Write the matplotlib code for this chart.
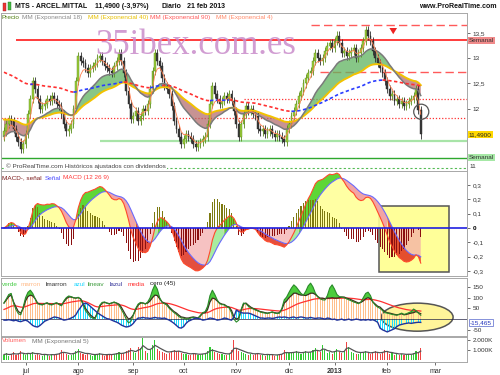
import matplotlib
matplotlib.use("Agg")
import matplotlib.pyplot as plt
from matplotlib.patches import Ellipse, Rectangle
import numpy as np
import pandas as pd

plt.rcParams["font.family"] = ["Liberation Sans", "DejaVu Sans"]

# ---- datos -------------------------------------------------------------------
# cierres diarios ARCELORMITTAL, ~20 jun 2012 .. 21 feb 2013
close = [
    11.55, 11.7, 11.8, 11.75, 11.6, 11.45, 11.35, 11.2, 11.3, 11.5,
    11.9, 12.2, 12.55, 12.4, 12.2, 12.0, 12.05, 12.1, 12.2, 12.15,
    12.25, 12.2, 12.1, 12.05, 11.9, 11.7, 11.55, 11.6, 11.7, 12.0,
    12.55, 13.05, 12.95, 12.9, 12.8, 12.7, 12.8, 12.85, 12.9, 13.0,
    13.05, 12.95, 12.85, 12.8, 12.75, 12.7, 12.85, 12.95, 13.1, 12.95,
    12.7, 12.35, 12.1, 11.8, 11.85, 11.95, 11.75, 11.85, 12.0, 11.95,
    12.1, 12.4, 12.75, 13.1, 12.95, 12.85, 12.6, 12.45, 12.4, 12.3,
    12.05, 11.75, 11.6, 11.45, 11.3, 11.4, 11.5, 11.45, 11.4, 11.3,
    11.25, 11.3, 11.35, 11.4, 11.45, 11.7, 12.1, 12.45, 12.3, 12.2,
    12.1, 12.15, 12.25, 12.2, 12.3, 12.15, 11.95, 11.7, 11.45, 11.7,
    11.9, 12.05, 11.95, 12.0, 11.9, 11.85, 11.6, 11.55, 11.6, 11.5,
    11.55, 11.6, 11.5, 11.45, 11.5, 11.45, 11.4, 11.35, 11.6, 11.7,
    11.85, 11.95, 12.1, 12.25, 12.35, 12.5, 12.6, 12.7, 12.75, 12.95,
    13.1, 13.0, 12.95, 13.0, 13.15, 13.25, 13.3, 13.2, 13.35, 13.45,
    13.3, 13.1, 13.15, 13.05, 13.1, 13.15, 13.2, 13.0, 13.1, 13.2,
    13.35, 13.55, 13.45, 13.35, 13.15, 13.0, 12.9, 12.8, 12.7, 12.55,
    12.4, 12.25, 12.3, 12.15, 12.2, 12.1, 12.15, 12.05, 12.1, 12.15,
    12.2, 12.25, 12.4, 11.97, 11.49,
]
open_first = 11.45

# valores de las medias al inicio de la ventana visible
ema_start = {4: 11.3, 18: 11.45, 40: 11.8, 90: 12.75}

# volumen diario (miles)
volume_k = [
    550, 700, 450, 600, 800, 500, 650, 900, 600, 500,
    750, 600, 850, 500, 650, 550, 400, 600, 500, 450,
    600, 500, 650, 700, 1000, 800, 650, 550, 500, 700,
    900, 1100, 700, 600, 500, 650, 550, 450, 500, 600,
    700, 500, 450, 550, 600, 500, 650, 700, 800, 600,
    750, 900, 1000, 1200, 800, 700, 1300, 1200, 2200, 900,
    700, 1000, 1500, 2000, 1100, 900, 800, 700, 600, 750,
    900, 1000, 800, 950, 700, 600, 650, 500, 550, 700,
    600, 500, 550, 650, 700, 900, 1300, 1100, 800, 700,
    600, 650, 500, 550, 600, 1000, 2000, 1200, 900, 800,
    700, 600, 550, 650, 500, 600, 700, 550, 500, 450,
    600, 500, 550, 450, 500, 600, 650, 1000, 800, 700,
    750, 800, 900, 700, 650, 800, 900, 700, 850, 1000,
    1200, 900, 800, 1500, 1000, 700, 800, 600, 900, 1100,
    800, 700, 900, 1800, 1300, 800, 700, 600, 650, 700,
    800, 900, 700, 600, 800, 900, 700, 650, 800, 1000,
    900, 600, 700, 550, 600, 500, 650, 550, 500, 600,
    550, 700, 900, 800, 1200,
]

# indicador (45): verde / lmarron / lazul
ind_verde = [
    75, 95, 115, 120, 75, 45, 25, 20, 55, 100,
    125, 135, 120, 95, 72, 68, 66, 72, 76, 68,
    66, 73, 76, 68, 62, 85, 100, 108, 105, 100,
    98, 102, 92, 68, 40, 25, 10, 5, 0, 30,
    65, 78, 80, 74, 70, 76, 80, 74, 65, 45,
    25, 0, -18, -10, 20, 50, 70, 78, 75, 70,
    80, 100, 135, 160, 140, 100, 78, 72, 65, 50,
    40, 30, 22, 12, 5, 5, 0, 2, 5, 8,
    5, 3, 18, 30, 35, 60, 110, 135, 115, 90,
    72, 68, 66, 58, 52, 30, 0, -14, -5, 45,
    75, 72, 60, 52, 48, 42, 38, 33, 30, 28,
    26, 30, 33, 28, 26, 28, 50, 90, 103, 125,
    145, 160, 150, 135, 120, 112, 130, 155, 168, 150,
    121, 105, 95, 90, 89, 110, 145, 160, 140, 115,
    105, 103, 100, 95, 90, 85, 80, 76, 72, 80,
    100, 120, 126, 110, 80, 65, 56, 50, 40, 30,
    28, 25, 22, 20, 18, 22, 28, 22, 25, 30,
    35, 47, 40, 28, 18,
]
ind_lmarron = [
    75, 90, 105, 112, 80, 56, 35, 28, 50, 85,
    105, 112, 108, 95, 75, 70, 68, 72, 75, 70,
    68, 72, 75, 70, 65, 80, 95, 103, 103, 100,
    98, 100, 95, 75, 50, 35, 20, 10, 5, 30,
    60, 75, 78, 75, 72, 75, 78, 75, 70, 55,
    35, 15, 0, 5, 20, 45, 65, 75, 75, 72,
    75, 85, 100, 112, 110, 95, 80, 75, 70, 56,
    45, 35, 28, 18, 10, 8, 5, 5, 8, 10,
    8, 5, 15, 28, 30, 45, 80, 98, 95, 85,
    75, 70, 68, 60, 56, 40, 10, 0, 5, 40,
    70, 75, 65, 56, 50, 45, 40, 35, 33, 30,
    28, 30, 33, 30, 28, 30, 45, 75, 85, 100,
    110, 121, 121, 115, 112, 112, 110, 115, 121, 121,
    115, 105, 98, 98, 95, 98, 98, 100, 98, 98,
    100, 103, 103, 98, 95, 90, 85, 80, 75, 78,
    85, 95, 100, 95, 80, 70, 60, 56, 45, 35,
    30, 28, 25, 22, 20, 22, 25, 20, 22, 25,
    28, 30, 35, 30, 25,
]
ind_lazul = [
    -5, -5, -3, -5, -8, -5, -10, -12, -8, -5,
    -10, -20, -30, -35, -37, -30, -20, -10, -5, 0,
    5, 10, 8, 5, 0, -5, -3, 0, 5, 10,
    20, 40, 55, 70, 75, 70, 60, 50, 40, 30,
    22, 15, 8, 2, 0, -5, -10, -14, -20, -28,
    -33, -37, -35, -30, -20, -5, 5, 5, 8, 5,
    5, 3, 5, 8, 5, 5, 3, 5, 0, -5,
    -12, -20, -30, -40, -42, -35, -20, -10, -5, 0,
    5, 3, 0, -5, -3, 0, 5, 3, 0, -5,
    -3, 0, 5, 3, -2, -5, 10, 42, 35, 30,
    28, 28, 28, 25, 20, 15, 10, 5, 5, 3,
    5, 5, 3, 5, 8, 10, 8, 10, 8, 5,
    8, 10, 5, 8, 10, 8, 5, 5, 8, 5,
    3, 5, 5, 3, 0, 5, 3, -2, 0, -5,
    -3, 0, -5, -3, 0, -5, -3, 0, -2, -5,
    -3, -5, -2, -5, -3, -8, -15, -42, -50, -55,
    -60, -55, -50, -45, -35, -28, -25, -22, -20, -18,
    -20, -18, -16, -15, -15.465,
]
media_start = 42

# niveles horizontales del panel de precio
lvl_semanal_r = 13.36
lvl_dash_hi = 13.66
lvl_dash_mid = 12.73
lvl_dot_hi = 12.19
lvl_dot_lo = 11.82
lvl_green_lt = 11.36
lvl_semanal_g = 11.03
lvl_green_dash = 10.83

month_pos = [9, 31, 54, 75, 97, 119, 138, 160, 180]
month_labels = ["jul", "ago", "sep", "oct", "nov", "dic", "2013", "feb", "mar"]

W, H = 500, 375
FS = 4.6
XLIM = (-1.25, 193.3)


def ema(values, span, seed):
    s = pd.Series([seed] + list(values), dtype=float)
    return s.ewm(span=span, adjust=False).mean().to_numpy()[1:]


fig = plt.figure(figsize=(W / 100, H / 100), dpi=100)
fig.patch.set_facecolor("white")


def px_axes(x0, y0, x1, y1):
    ax = fig.add_axes([x0 / W, 1 - y1 / H, (x1 - x0) / W, (y1 - y0) / H])
    ax.set_xlim(*XLIM)
    ax.yaxis.tick_right()
    ax.tick_params(axis="y", labelsize=FS, colors="#333333", length=2.5, width=0.5, pad=1.5)
    ax.tick_params(axis="x", bottom=False, labelbottom=False)
    for sp in ax.spines.values():
        sp.set_color("#a8a8a8")
        sp.set_linewidth(0.7)
    return ax


def ftxt(x, y, s, **kw):
    fig.text(x / W, 1 - y / H, s, va="center", fontsize=kw.pop("fontsize", FS), **kw)


x = np.arange(len(close))
c = np.array(close, dtype=float)
o = np.r_[open_first, c[:-1]]
up = c >= o

# ===== precio =====================================================================
ax_p = px_axes(1, 13, 467, 171)
ax_p.set_ylim(10.767, 13.896)

e4 = ema(c, 4, ema_start[4])
e18 = ema(c, 18, ema_start[18])
e40 = ema(c, 40, ema_start[40])
e90 = ema(c, 90, ema_start[90])

ax_p.hlines(lvl_semanal_r, 5, XLIM[1], color="#ff1a1a", lw=1.2, zorder=1)
ax_p.hlines(lvl_dash_hi, 128, XLIM[1], color="#ff5a5a", lw=1.0, linestyles=(0, (6, 3)), zorder=1)
ax_p.hlines(lvl_dash_mid, 132, XLIM[1], color="#ff5a5a", lw=1.0, linestyles=(0, (6, 3)), zorder=1)
ax_p.hlines(lvl_dot_hi, 100, XLIM[1], color="#ff3030", lw=0.9, linestyles=(0, (1, 1.5)), zorder=1)
ax_p.hlines(lvl_dot_lo, XLIM[0], XLIM[1], color="#ff3030", lw=0.9, linestyles=(0, (1, 1.5)), zorder=1)
ax_p.hlines(lvl_green_lt, 40, XLIM[1], color="#a8e4a8", lw=1.6, zorder=1)
ax_p.hlines(lvl_semanal_g, XLIM[0], XLIM[1], color="#2ea82e", lw=1.0, zorder=1)
ax_p.hlines(lvl_green_dash, XLIM[0], XLIM[1], color="#55bb55", lw=0.8, linestyles=(0, (2, 2)), zorder=1)

ax_p.fill_between(x, e18, e40, where=e18 >= e40, interpolate=True, color="#5fb45f", alpha=0.75, lw=0, zorder=2)
ax_p.fill_between(x, e18, e40, where=e18 < e40, interpolate=True, color="#b06666", alpha=0.7, lw=0, zorder=2)

lo_b = np.minimum(o, c)
hi_b = np.maximum(o, c)
ax_p.vlines(x, lo_b - 0.08, hi_b + 0.08, colors=["#5b8c1a" if u else "#2f2f2f" for u in up], lw=0.6, zorder=3)
ax_p.bar(x, np.maximum(hi_b - lo_b, 0.015), bottom=lo_b, width=0.75,
         color=["#9ccc3a" if u else "#3a3a3a" for u in up],
         edgecolor=["#5b8c1a" if u else "#222222" for u in up], lw=0.3, zorder=3)

ax_p.plot(x, e40, color="#f2c200", lw=1.4, zorder=4)
ax_p.plot(x, e18, color="#7a7a7a", lw=1.1, zorder=4)
ax_p.plot(x, e4, color="#ff7f50", lw=0.6, zorder=4)

rising = np.diff(e90) > 0
blue = np.full(len(x), np.nan)
red = np.full(len(x), np.nan)
for k, r in enumerate(rising):
    tgt = blue if r else red
    tgt[k] = e90[k]
    tgt[k + 1] = e90[k + 1]
ax_p.plot(x, red, color="#ff3030", lw=1.2, ls=(0, (2, 1.5)), zorder=4)
ax_p.plot(x, blue, color="#2a3cff", lw=1.2, ls=(0, (2, 1.5)), zorder=4)

ax_p.add_patch(Ellipse((174.2, 11.94), 6.3, 0.3, fill=False, edgecolor="#555555", lw=0.9, zorder=5))
ax_p.annotate("", xy=(162.5, 13.42), xytext=(162.5, 13.6),
              arrowprops=dict(arrowstyle="simple,head_width=0.55,head_length=0.45,tail_width=0.25",
                              color="#ee2222", lw=0), zorder=5)

ax_p.set_yticks([12, 12.5, 13, 13.5])
ax_p.set_yticklabels(["12", "12,5", "13", "13,5"])

ax_p.text(38, 13.08, "35ibex.com.es", fontsize=25, family="Liberation Serif",
          color="#c98ccb", alpha=0.85, va="baseline", zorder=6)

yt = ax_p.get_yaxis_transform()
box = dict(boxstyle="square,pad=0.15", lw=0)
ax_p.text(1.006, 10.86, "11", transform=yt, fontsize=FS, va="center", clip_on=False, color="#333333")
ax_p.text(1.004, lvl_semanal_r, "Semanal", transform=yt, fontsize=FS, va="center", clip_on=False,
          color="#333333", bbox=dict(box, facecolor="#f08a8a"))
ax_p.text(1.004, c[-1], "11,4900", transform=yt, fontsize=FS, va="center", clip_on=False,
          color="#222222", bbox=dict(box, facecolor="#ffd800"))
ax_p.text(1.004, lvl_semanal_g, "Semanal", transform=yt, fontsize=FS, va="center", clip_on=False,
          color="#333333", bbox=dict(box, facecolor="#a6e8a6"))

ax_p.text(1, 10.87, "© ProRealTime.com Históricos ajustados con dividendos", fontsize=FS,
          color="#444444", va="center", zorder=6,
          bbox=dict(boxstyle="square,pad=0.1", facecolor="white", lw=0))

# ===== MACD =======================================================================
ax_m = px_axes(1, 171, 467, 276)
ax_m.set_ylim(-0.336, 0.399)
ema12 = ema(c, 12, c[0])
ema26 = ema(c, 26, c[0])
macd = ema12 - ema26
sig = ema(macd, 9, macd[0])
hist = macd - sig

ax_m.add_patch(Rectangle((156.7, -0.308), 29.1, 0.462, facecolor="#ffff99", edgecolor="#555555",
                         lw=1.1, zorder=1))
ax_m.fill_between(x, 0, sig, where=sig >= 0, interpolate=True, color="#ffff99", alpha=0.9, lw=0, zorder=2)
ax_m.fill_between(x, 0, sig, where=sig < 0, interpolate=True, color="#f3a8a8", alpha=0.7, lw=0, zorder=2)
pos = (macd + sig) / 2 >= 0
ax_m.fill_between(x, sig, macd, where=(macd >= sig) & pos, interpolate=True, color="#5ed636", lw=0, zorder=2)
ax_m.fill_between(x, sig, macd, where=(macd >= sig) & ~pos, interpolate=True, color="#a8eca0", lw=0, zorder=2)
ax_m.fill_between(x, sig, macd, where=(macd < sig) & pos, interpolate=True, color="#f2a4a4", lw=0, zorder=2)
ax_m.fill_between(x, sig, macd, where=(macd < sig) & ~pos, interpolate=True, color="#e0301c", alpha=0.85,
                  lw=0, zorder=2)
ax_m.bar(x, hist * 1.5, width=0.45, color=["#7d7a10" if h >= 0 else "#8b1010" for h in hist], zorder=3)
ax_m.plot(x, sig, color="#6a6aff", lw=0.8, zorder=4)
ax_m.plot(x, macd, color="#ff4a2a", lw=0.8, zorder=4)
ax_m.axhline(0, color="#2020e0", lw=1.2, zorder=4)
ax_m.set_yticks([-0.3, -0.2, -0.1, 0, 0.1, 0.2, 0.3])
ax_m.set_yticklabels(["-0,3", "-0,2", "-0,1", "0", "0,1", "0,2", "0,3"])
ax_m.get_yticklabels()[3].set_fontweight("bold")
ax_m.get_yticklabels()[3].set_color("black")

# ===== indicador (45) =============================================================
ax_i = px_axes(1, 278, 467, 336)
ax_i.set_ylim(-79, 192)
verde = np.array(ind_verde, dtype=float)
lmar = np.array(ind_lmarron, dtype=float)
lazul = np.array(ind_lazul, dtype=float)
media = ema(lmar, 20, media_start)

ax_i.add_patch(Ellipse((172.5, 9), 30, 131, facecolor="#fff59a", edgecolor="#555555", lw=1.1, zorder=1))
ax_i.bar(x, lmar, width=0.4, color="#ffbf8c", zorder=2)
ax_i.bar(x, lazul, width=0.4, color="#20dcff", zorder=2)
ax_i.fill_between(x, lmar, verde, where=verde >= lmar, interpolate=True, color="#4ccc3c", lw=0, zorder=3)
ax_i.axhline(0, color="#222244", lw=0.5, zorder=3)
ax_i.plot(x, media, color="#ff3030", lw=0.9, zorder=4)
ax_i.plot(x, lmar, color="#3a3020", lw=0.9, zorder=4)
ax_i.plot(x, verde, color="#2a8a2a", lw=0.8, zorder=4)
ax_i.plot(x, lazul, color="#22339a", lw=1.0, zorder=4)
ax_i.set_yticks([-50, 50, 100, 150])
ax_i.set_yticklabels(["-50", "50", "100", "150"])
ax_i.text(1.006, lazul[-1], "-15,465", transform=ax_i.get_yaxis_transform(), fontsize=FS, va="center",
          clip_on=False, color="#2233bb",
          bbox=dict(boxstyle="square,pad=0.15", facecolor="white", edgecolor="#5566cc", lw=0.5))

# ===== volumen ====================================================================
ax_v = px_axes(1, 337, 467, 362)
ax_v.set_ylim(-200, 2300)
vol = np.array(volume_k, dtype=float)
ax_v.bar(x, vol, width=0.45, color=["#33cc33" if u else "#ee4444" for u in up], zorder=2)
ax_v.plot(x, ema(vol, 5, vol[0]), color="#555555", lw=0.9, zorder=3)
ax_v.set_yticks([1000, 2000])
ax_v.set_yticklabels(["1.000K", "2.000K"])
ax_v.tick_params(axis="x", bottom=True, labelbottom=True, labelsize=FS + 0.4, colors="#333333",
                 length=2.5, width=0.5, pad=2)
ax_v.set_xticks(month_pos)
ax_v.set_xticklabels(month_labels)
ax_v.get_xticklabels()[6].set_fontweight("bold")

# ===== textos de cabecera =========================================================
fig.add_artist(Rectangle((3 / W, 1 - 11 / H), 3 / W, 8 / H, transform=fig.transFigure,
                         facecolor="#ee3333", edgecolor="#992222", lw=0.3))
fig.add_artist(Rectangle((8 / W, 1 - 10 / H), 3 / W, 8 / H, transform=fig.transFigure,
                         facecolor="#44bb44", edgecolor="#227722", lw=0.3))
ftxt(15, 6.5, "MTS - ARCEL.MITTAL", fontsize=5, weight="bold", color="#111111")
ftxt(95, 6.5, "11,4900 (-3,97%)", fontsize=5, weight="bold", color="#111111")
ftxt(162, 6.5, "Diario", fontsize=5, weight="bold", color="#111111")
ftxt(187, 6.5, "21 feb 2013", fontsize=5, weight="bold", color="#111111")
ftxt(497, 6.5, "www.ProRealTime.com", fontsize=5, weight="bold", color="#111111", ha="right")

ftxt(2, 17.5, "Precio", color="#4f7f10")
ftxt(22, 17.5, "MM (Exponencial 18)", color="#8a8a8a")
ftxt(88, 17.5, "MM (Exponencial 40)", color="#e8c000")
ftxt(150, 17.5, "MM (Exponencial 90)", color="#ff5a5a")
ftxt(216, 17.5, "MM (Exponencial 4)", color="#ff8a6a")

ftxt(2, 178, "MACD-, señal", color="#7a1a1a")
ftxt(45, 178, "Señal", color="#4a4aff")
ftxt(63, 178, "MACD (12 26 9)", color="#ff3a3a")

ftxt(2, 284, "verde", color="#44cc44")
ftxt(21, 284, "marron", color="#ffbb88")
ftxt(46, 284, "lmarron", color="#333333")
ftxt(74, 284, "azul", color="#22d8ff")
ftxt(88, 284, "lineav", color="#3a9a3a")
ftxt(110, 284, "lazul", color="#333399")
ftxt(128, 284, "media", color="#ff3333")
ftxt(150, 284, "cero (45)", color="#222222")

ftxt(2, 341, "Volumen", color="#ff6060")
ftxt(32, 341, "MM (Exponencial 5)", color="#777777")

fig.savefig("out.png", dpi=100, facecolor="white")
